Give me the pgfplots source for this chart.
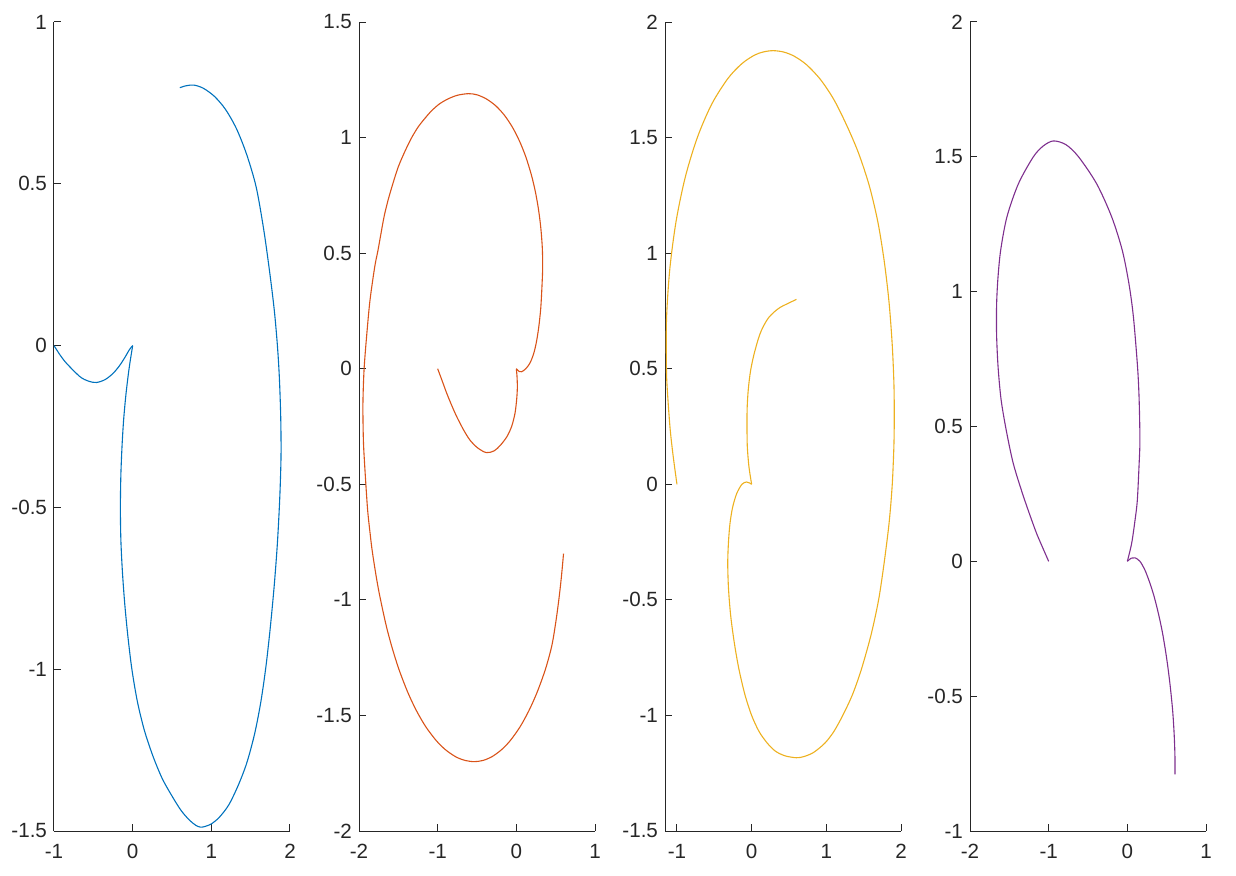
\documentclass[border=0pt]{standalone}
\usepackage{fontspec}
\setmainfont{Liberation Sans}
\usepackage{pgfplots}
\pgfplotsset{compat=1.18}
\definecolor{c1}{rgb}{0,0.447,0.741}
\definecolor{c2}{rgb}{0.850,0.325,0.098}
\definecolor{c3}{rgb}{0.929,0.694,0.125}
\definecolor{c4}{rgb}{0.494,0.184,0.556}
\definecolor{axc}{rgb}{0.15,0.15,0.15}
\pgfplotsset{mstyle/.style={
  scale only axis, width=118pt, height=404.5pt,
  axis x line*=bottom, axis y line*=left,
  axis line style={color=axc, line width=0.5pt},
  every tick/.style={color=axc, line width=0.5pt},
  major tick length=3.5pt,
  tick align=inside,
  ticklabel style={font=\fontsize{10.3}{12}\selectfont, text=axc},
  xticklabel style={yshift=-3pt},
  /pgf/number format/assume math mode=true,
  anchor=south west,
  every axis plot/.append style={line width=0.55pt, smooth},
}}
\begin{document}
\begin{tikzpicture}
\path[use as bounding box] (0,0) rectangle (618pt,437.5pt);
% ---------- Panel 1 ----------
\begin{axis}[mstyle, at={(27pt,22pt)},
  xmin=-1, xmax=2, ymin=-1.5, ymax=1,
  xtick={-1,0,1,2}, ytick={-1.5,-1,-0.5,0,0.5,1}]
\addplot[c1] coordinates {(-1,0) (-0.92,-0.03) (-0.84,-0.055) (-0.67,-0.096) (-0.56,-0.11) (-0.46,-0.114) (-0.35,-0.105) (-0.25,-0.086) (-0.17,-0.063) (-0.10,-0.037) (-0.04,-0.012) (0,0)};
\addplot[c1] coordinates {(0,0) (-0.045,-0.07) (-0.085,-0.15) (-0.115,-0.23) (-0.135,-0.31) (-0.15,-0.40) (-0.156,-0.50) (-0.15,-0.60) (-0.13,-0.70) (-0.10,-0.80) (-0.06,-0.90) (-0.01,-1.00) (0.06,-1.10) (0.15,-1.19) (0.26,-1.27) (0.38,-1.34) (0.52,-1.40) (0.62,-1.438) (0.72,-1.466) (0.80,-1.482) (0.86,-1.488) (0.92,-1.486) (1.00,-1.478) (1.10,-1.458) (1.22,-1.42) (1.34,-1.36) (1.45,-1.29) (1.55,-1.20) (1.63,-1.10) (1.695,-0.99) (1.75,-0.87) (1.80,-0.74) (1.84,-0.61) (1.87,-0.47) (1.886,-0.34) (1.882,-0.22) (1.865,-0.10) (1.84,0.0) (1.80,0.11) (1.74,0.23) (1.665,0.36) (1.57,0.49) (1.45,0.59) (1.32,0.67) (1.18,0.73) (1.04,0.77) (0.90,0.795) (0.78,0.805) (0.68,0.803) (0.6,0.797)};
\end{axis}
% ---------- Panel 2 ----------
\begin{axis}[mstyle, at={(179.5pt,22pt)},
  xmin=-2, xmax=1, ymin=-2, ymax=1.5,
  xtick={-2,-1,0,1}, ytick={-2,-1.5,-1,-0.5,0,0.5,1,1.5}]
\addplot[c2] coordinates {(-1,0) (-0.94,-0.055) (-0.885,-0.106) (-0.82,-0.16) (-0.757,-0.208) (-0.67,-0.265) (-0.589,-0.309) (-0.49,-0.343) (-0.38,-0.363) (-0.28,-0.355) (-0.20,-0.33) (-0.12,-0.294) (-0.06,-0.25) (-0.017,-0.193) (0.005,-0.13) (0.013,-0.078) (0.008,-0.03) (0,0)};
\addplot[c2] coordinates {(0,0) (0.035,-0.012) (0.068,-0.013) (0.12,0.0) (0.174,0.025) (0.22,0.065) (0.255,0.115) (0.285,0.18) (0.31,0.26) (0.325,0.35) (0.335,0.44) (0.33,0.524) (0.31,0.613) (0.28,0.693) (0.24,0.769) (0.19,0.84) (0.12,0.917) (0.04,0.985) (-0.05,1.045) (-0.15,1.096) (-0.26,1.137) (-0.38,1.167) (-0.50,1.185) (-0.61,1.19) (-0.75,1.183) (-0.87,1.167) (-0.98,1.145) (-1.08,1.115) (-1.17,1.08) (-1.25,1.045) (-1.33,1.0) (-1.41,0.945) (-1.50,0.874) (-1.57,0.80) (-1.63,0.73) (-1.68,0.66) (-1.72,0.586) (-1.76,0.51) (-1.80,0.441) (-1.86,0.297) (-1.90,0.153) (-1.935,0) (-1.95,-0.15) (-1.945,-0.30) (-1.931,-0.4) (-1.893,-0.6) (-1.863,-0.7) (-1.827,-0.8) (-1.755,-0.95) (-1.662,-1.1) (-1.585,-1.2) (-1.493,-1.3) (-1.38,-1.4) (-1.269,-1.48) (-1.149,-1.55) (-1.015,-1.61) (-0.895,-1.65) (-0.764,-1.68) (-0.647,-1.695) (-0.534,-1.70) (-0.428,-1.695) (-0.317,-1.68) (-0.194,-1.65) (-0.08,-1.61) (0.046,-1.55) (0.159,-1.48) (0.264,-1.4) (0.37,-1.3) (0.45,-1.2) (0.50,-1.1) (0.54,-1.0) (0.573,-0.9) (0.6,-0.8)};
\end{axis}
% ---------- Panel 3 ----------
\begin{axis}[mstyle, at={(332.5pt,22pt)},
  xmin=-1.16, xmax=2, ymin=-1.5, ymax=2,
  xtick={-1,0,1,2}, ytick={-1.5,-1,-0.5,0,0.5,1,1.5,2}]
\addplot[c3] coordinates {(-1,0) (-1.05,0.12) (-1.09,0.235) (-1.123,0.378) (-1.14,0.489) (-1.14,0.711) (-1.096,0.93) (-1.011,1.139) (-0.886,1.332) (-0.725,1.502) (-0.534,1.645) (-0.317,1.756) (-0.13,1.82) (0.04,1.857) (0.164,1.871) (0.289,1.876) (0.43,1.870) (0.57,1.852) (0.736,1.815) (0.922,1.751) (1.10,1.665) (1.27,1.555) (1.43,1.434) (1.575,1.292) (1.69,1.135) (1.775,0.966) (1.84,0.787) (1.883,0.601) (1.905,0.437) (1.91,0.3) (1.906,0.18) (1.895,0.08) (1.883,0) (1.86,-0.1) (1.83,-0.198) (1.77,-0.35) (1.70,-0.5) (1.60,-0.65) (1.47,-0.8) (1.35,-0.91) (1.22,-1.0) (1.10,-1.07) (0.98,-1.12) (0.83,-1.16) (0.70,-1.178) (0.60,-1.183) (0.45,-1.175) (0.32,-1.155) (0.21,-1.12) (0.10,-1.07) (0.0,-1.0) (-0.09,-0.91) (-0.17,-0.80) (-0.23,-0.69) (-0.28,-0.57) (-0.31,-0.45) (-0.32,-0.34) (-0.31,-0.25) (-0.29,-0.17) (-0.255,-0.10) (-0.20,-0.04) (-0.13,0.0) (-0.07,0.01) (-0.03,0.006) (0,0)};
\addplot[c3] coordinates {(0,0) (-0.036,0.076) (-0.058,0.163) (-0.062,0.25) (-0.06,0.33) (-0.045,0.41) (-0.015,0.49) (0.03,0.56) (0.09,0.63) (0.13,0.665) (0.18,0.697) (0.23,0.722) (0.30,0.745) (0.38,0.765) (0.49,0.783) (0.6,0.8)};
\end{axis}
% ---------- Panel 4 ----------
\begin{axis}[mstyle, at={(485pt,22pt)},
  xmin=-2, xmax=1, ymin=-1, ymax=2,
  xtick={-2,-1,0,1}, ytick={-1,-0.5,0,0.5,1,1.5,2}]
\addplot[c4] coordinates {(-1,0) (-1.09,0.06) (-1.17,0.116) (-1.32,0.24) (-1.45,0.363) (-1.54,0.487) (-1.605,0.6) (-1.643,0.72) (-1.662,0.84) (-1.662,0.95) (-1.645,1.05) (-1.61,1.154) (-1.53,1.278) (-1.385,1.40) (-1.195,1.50) (-1.07,1.54) (-0.94,1.559) (-0.78,1.545) (-0.62,1.50) (-0.39,1.40) (-0.20,1.278) (-0.065,1.154) (0.02,1.03) (0.077,0.907) (0.13,0.72) (0.15,0.6) (0.16,0.45) (0.15,0.363) (0.127,0.227) (0.098,0.153) (0.055,0.067) (0,0)};
\addplot[c4] coordinates {(0,0) (0.05,0.012) (0.10,0.013) (0.16,0.0) (0.22,-0.03) (0.28,-0.075) (0.34,-0.13) (0.40,-0.20) (0.45,-0.27) (0.50,-0.36) (0.54,-0.45) (0.575,-0.55) (0.595,-0.64) (0.605,-0.72) (0.606,-0.79)};
\end{axis}
\end{tikzpicture}
\end{document}
